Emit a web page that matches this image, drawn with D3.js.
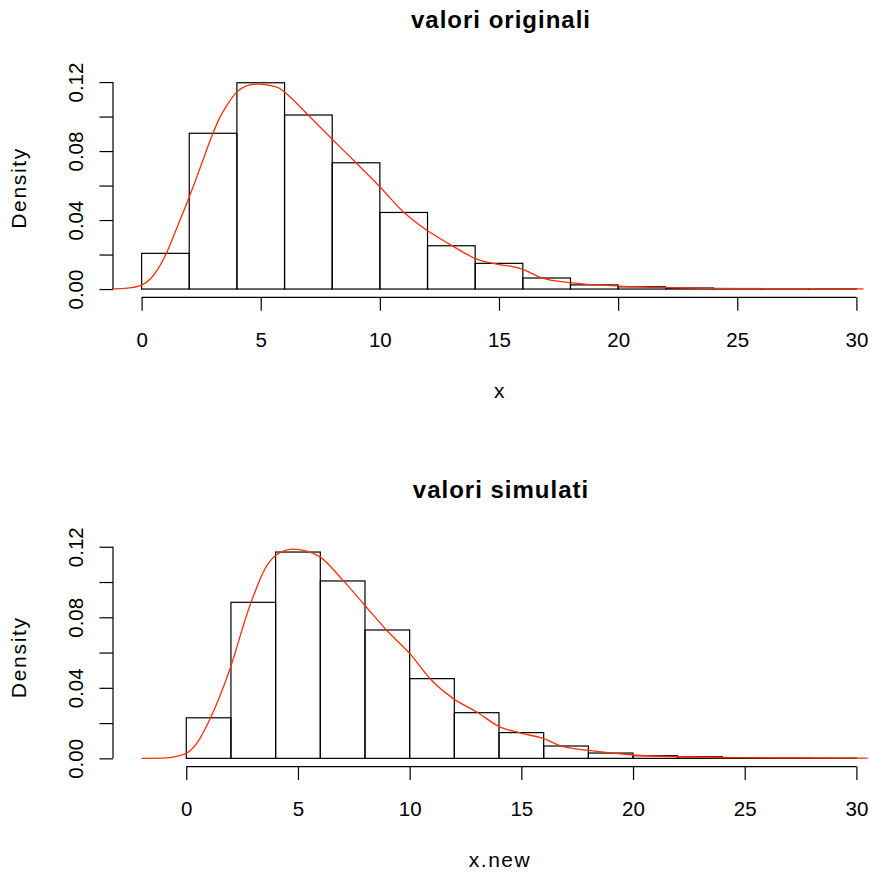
<!DOCTYPE html>
<html>
<head>
<meta charset="utf-8">
<script src="https://cdn.jsdelivr.net/npm/d3@7"></script>
<style>
body { margin: 0; background: #fff; }
svg text { font-family: "Liberation Sans", Arial, Helvetica, sans-serif; fill: #000; }
</style>
</head>
<body>
<div id="chart"></div>
<script>

// histogram breaks (same for both panels)
var breaks = [0, 2, 4, 6, 8, 10, 12, 14, 16, 18, 20, 22, 24, 26, 28, 30];

// density of each bin
var densOrig = [0.0207, 0.0903, 0.1196, 0.1009, 0.0732, 0.0444, 0.0251, 0.0149, 0.0064, 0.0024, 0.0013, 0.0006, 0.0003, 0.0002, 0.0001];
var densSim  = [0.0230, 0.0885, 0.1170, 0.1006, 0.0728, 0.0452, 0.0259, 0.0146, 0.0070, 0.0030, 0.0015, 0.0009, 0.0004, 0.0002, 0.0001];

// kernel density curves [x, density]
var kdeOrig = [[-1.2, 0.0001], [-0.6, 0.0005], [0, 0.0023], [0.5, 0.008], [1.04, 0.0207], [1.5, 0.0361], [1.95, 0.0516],
	[2.45, 0.0700], [2.93, 0.0880], [3.25, 0.0985], [3.56, 0.1060], [3.98, 0.1140], [4.4, 0.1178], [4.82, 0.1188], [5.4, 0.1180], [5.8, 0.1163],
	[6.22, 0.1115], [6.99, 0.1009], [7.97, 0.0873], [9.02, 0.0729], [10.0, 0.0593], [10.98, 0.0448], [11.96, 0.0342],
	[12.94, 0.0259], [14.06, 0.0174], [14.9, 0.0145], [15.88, 0.0120], [16.86, 0.0062], [17.98, 0.0037], [20.03, 0.0017],
	[22.0, 0.0008], [25, 0.0003], [28, 0.0002], [30.3, 0.0001]];
var kdeSim = [[-2, 0.0000], [-0.9, 0.0003], [0, 0.0028], [0.5, 0.0090], [1.04, 0.0217], [1.94, 0.0501], [2.83, 0.0860],
	[3.58, 0.1087], [4.03, 0.1153], [4.78, 0.1187], [5.4, 0.1175], [5.97, 0.1144], [7.01, 0.1011], [7.98, 0.0870],
	[8.96, 0.0728], [10.0, 0.0595], [10.97, 0.0444], [11.94, 0.0340], [12.99, 0.0264], [14.03, 0.0179], [14.93, 0.0145],
	[15.97, 0.0113], [16.87, 0.0066], [18.03, 0.0045], [20.0, 0.0019], [22, 0.0009], [25, 0.0004], [28, 0.0002], [30.5, 0.0001]];

var xTicks = [0, 5, 10, 15, 20, 25, 30];
var yTicks = [0, 0.02, 0.04, 0.06, 0.08, 0.10, 0.12];
var yTickLabels = ["0.00", "", "0.04", "", "0.08", "", "0.12"];

var titles = ["valori originali", "valori simulati"];
var xLabels = ["x", "x.new"];
var xlims = [[0, 30], [-2, 30]];

var width = 870, height = 872;
var left = 113, right = 885;
var plotTops = [74.5, 543.8];
var plotH = 222.8;
var tickLen = 13.5;
var red = "#ff2d0a";

var svg = d3.select("#chart")
	.append("svg")
	.attr("width", width)
	.attr("height", height);

// R style: extend the range by 4% on each side
function pad(lo, hi) {
	var d = (hi - lo) * 0.04;
	return [lo - d, hi + d];
}

function drawPanel(i, dens, kde) {
	var top = plotTops[i], bottom = top + plotH;
	var g = svg.append("g");

	var x = d3.scaleLinear()
		.domain(pad(xlims[i][0], xlims[i][1]))
		.range([left, right]);
	var y = d3.scaleLinear()
		.domain(pad(0, d3.max(dens)))
		.range([bottom, top]);

	// clip for the density line
	svg.append("clipPath").attr("id", "clip" + i)
		.append("rect")
		.attr("x", left).attr("y", top)
		.attr("width", right - left).attr("height", plotH);

	// bars
	g.selectAll("rect.bar")
		.data(dens)
		.enter()
		.append("rect")
		.attr("class", "bar")
		.attr("x", function(d, j) { return x(breaks[j]); })
		.attr("width", function(d, j) { return x(breaks[j + 1]) - x(breaks[j]); })
		.attr("y", function(d) { return y(d); })
		.attr("height", function(d) { return y(0) - y(d); })
		.style("fill", "none")
		.style("stroke", "#000")
		.style("stroke-width", 1.2);

	// kde
	var line = d3.line()
		.x(function(d) { return x(d[0]); })
		.y(function(d) { return y(d[1]); })
		.curve(d3.curveMonotoneX);
	g.append("path")
		.datum(kde)
		.attr("d", line)
		.attr("clip-path", "url(#clip" + i + ")")
		.style("fill", "none")
		.style("stroke", red)
		.style("stroke-width", 1.3);

	// x axis
	var xa = g.append("g")
		.attr("transform", "translate(0," + bottom + ")")
		.call(d3.axisBottom(x).tickValues(xTicks).tickSize(tickLen).tickFormat(d3.format("d")));
	xa.select(".domain").remove();
	xa.append("line")
		.attr("x1", x(xTicks[0])).attr("x2", x(xTicks[xTicks.length - 1]))
		.attr("stroke", "#000").attr("stroke-width", 1.2);
	xa.selectAll(".tick line").attr("stroke-width", 1.2);
	xa.selectAll(".tick text")
		.attr("y", 49.5).attr("dy", 0)
		.style("font-size", "20.5px");

	// y axis
	var ya = g.append("g")
		.attr("transform", "translate(" + left + ",0)")
		.call(d3.axisLeft(y).tickValues(yTicks).tickSize(tickLen)
			.tickFormat(function(d, j) { return yTickLabels[j]; }));
	ya.select(".domain").remove();
	ya.append("line")
		.attr("y1", y(yTicks[0])).attr("y2", y(yTicks[yTicks.length - 1]))
		.attr("stroke", "#000").attr("stroke-width", 1.2);
	ya.selectAll(".tick line").attr("stroke-width", 1.2);
	ya.selectAll(".tick text")
		.attr("x", 0).attr("dy", 0)
		.attr("text-anchor", "middle")
		.attr("transform", "translate(-29.7,0) rotate(-90)")
		.style("font-size", "20.5px");

	// titles and labels
	svg.append("text")
		.attr("x", 501).attr("y", top - 46.2)
		.attr("text-anchor", "middle")
		.style("font-size", "24px")
		.style("font-weight", "bold")
		.style("letter-spacing", "1px")
		.text(titles[i]);

	svg.append("text")
		.attr("x", 500).attr("y", bottom + 100.5)
		.attr("text-anchor", "middle")
		.style("font-size", "21px")
		.style("letter-spacing", "1.5px")
		.text(xLabels[i]);

	svg.append("text")
		.attr("transform", "translate(25.5," + (top + plotH / 2 + 2) + ") rotate(-90)")
		.attr("text-anchor", "middle")
		.style("font-size", "21px")
		.style("letter-spacing", "1.7px")
		.text("Density");
}

drawPanel(0, densOrig, kdeOrig);
drawPanel(1, densSim, kdeSim);

</script>
</body>
</html>
